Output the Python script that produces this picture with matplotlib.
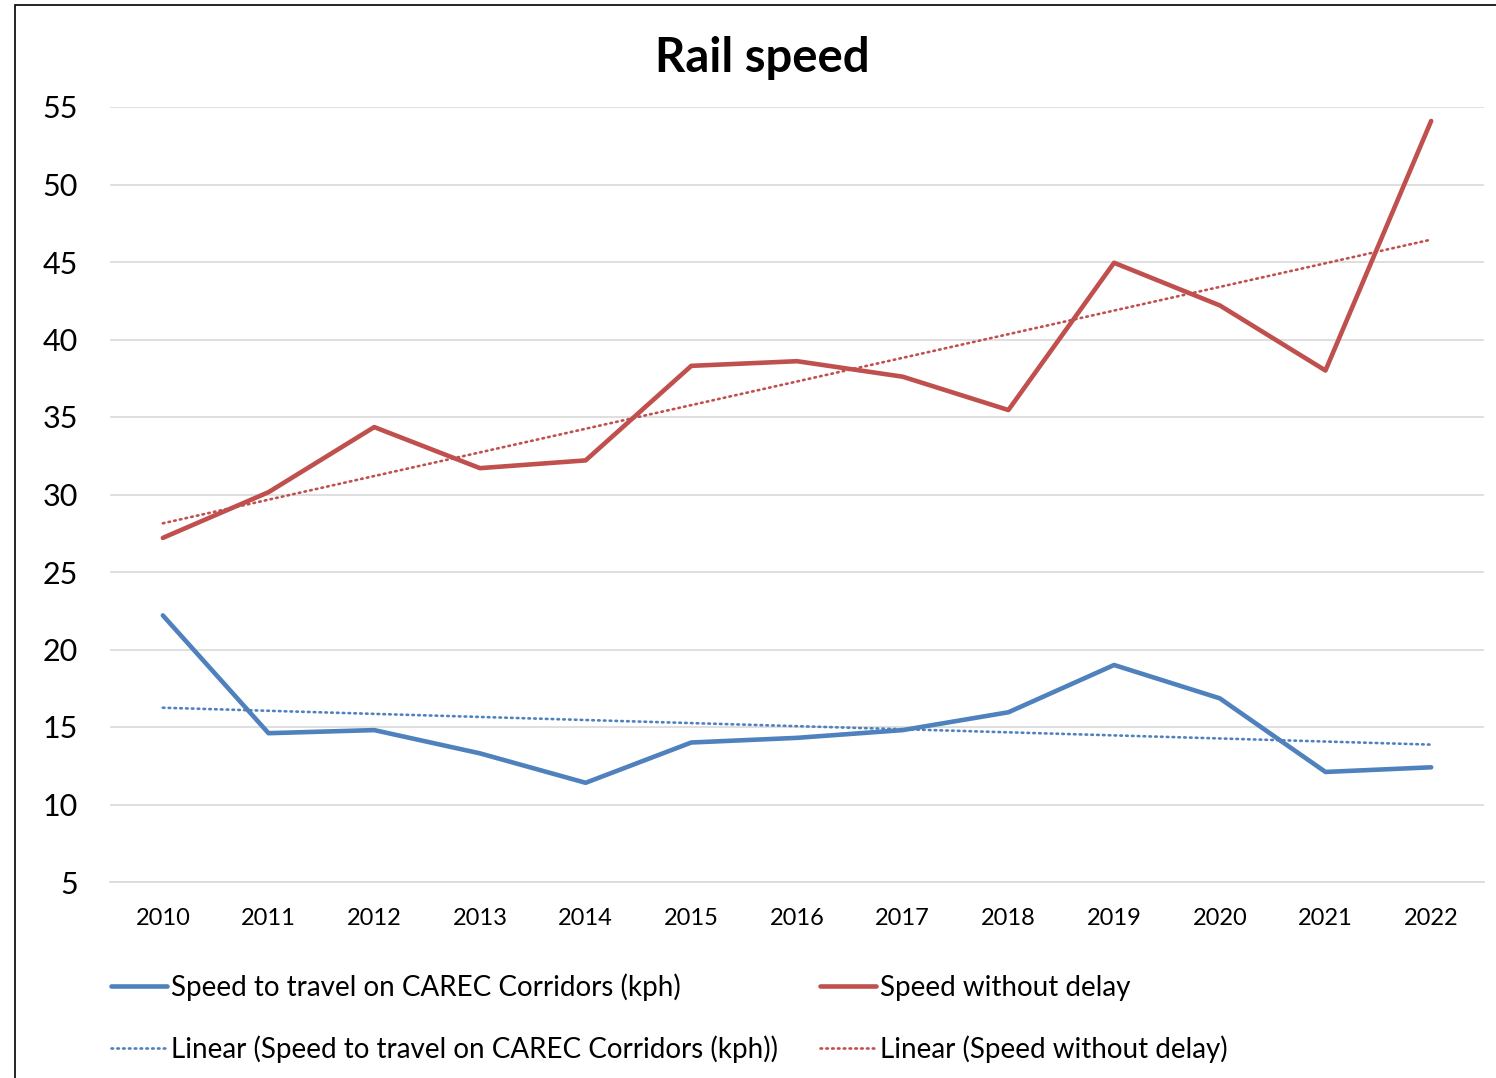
import matplotlib
matplotlib.use('Agg')
import matplotlib.pyplot as plt
from matplotlib.patches import Rectangle
import numpy as np

years = [2010, 2011, 2012, 2013, 2014, 2015, 2016, 2017, 2018, 2019, 2020, 2021, 2022]
speed_carec = [22.2, 14.6, 14.8, 13.3, 11.4, 14.0, 14.3, 14.8, 15.95, 19.0, 16.85, 12.1, 12.4]
speed_no_delay = [27.2, 30.15, 34.35, 31.7, 32.2, 38.3, 38.6, 37.6, 35.45, 44.95, 42.2, 38.0, 54.1]

label_carec = 'Speed to travel on CAREC Corridors (kph)'
label_nodelay = 'Speed without delay'

blue = '#4F81BD'
red = '#C0504D'
grid_col = '#D9D9D9'

plt.rcParams['font.family'] = ['Lato', 'DejaVu Sans']

fig = plt.figure(figsize=(14.96, 10.78), dpi=100)
# outer chart frame (runs off the right/bottom edge like in the source)
fig.patches.append(Rectangle((15 / 1496, -0.05), 1.1, 1.05 - 5 / 1078, transform=fig.transFigure,
                             fill=False, edgecolor='black', linewidth=1.2))

ax = fig.add_axes([110 / 1496, 1 - 882 / 1078, (1484 - 110) / 1496, (882 - 107) / 1078])

x = np.arange(len(years))

def trend(vals):
    k, b = np.polyfit(x, vals, 1)
    return k * x + b

l1, = ax.plot(x, speed_carec, color=blue, lw=3.3, solid_capstyle='round', zorder=3)
l2, = ax.plot(x, speed_no_delay, color=red, lw=3.3, solid_capstyle='round', zorder=3)
t1, = ax.plot(x, trend(speed_carec), color=blue, lw=1.9, linestyle=(0, (0.6, 1.6)),
              dash_capstyle='round', zorder=2)
t2, = ax.plot(x, trend(speed_no_delay), color=red, lw=1.9, linestyle=(0, (0.6, 1.6)),
              dash_capstyle='round', zorder=2)

ax.set_xlim(-0.5, len(years) - 0.5)
ax.set_ylim(5, 55)
ax.set_yticks(range(5, 56, 5))
ax.set_xticks(x)
ax.set_xticklabels([str(y) for y in years])
ax.yaxis.grid(True, color=grid_col, lw=1.2)
ax.set_axisbelow(True)
for s in ['top', 'right', 'left']:
    ax.spines[s].set_visible(False)
ax.spines['bottom'].set_color(grid_col)
ax.spines['bottom'].set_linewidth(1.2)
ax.tick_params(axis='y', length=0, labelsize=22, pad=23)
ax.tick_params(axis='x', length=0, labelsize=17, pad=19)

fig.text(762 / 1496, 1 - 58 / 1078, 'Rail speed', ha='center', va='center',
         fontsize=34, fontweight='bold')

fig.legend([l1, t1, l2, t2],
           [label_carec, 'Linear (' + label_carec + ')', label_nodelay, 'Linear (' + label_nodelay + ')'],
           ncol=2, loc='upper left', bbox_to_anchor=(100 / 1496, 1 - 962 / 1078),
           frameon=False, fontsize=20, handlelength=2.0, handletextpad=0.15,
           columnspacing=1.52, labelspacing=1.25, borderaxespad=0)

fig.savefig('out.png', dpi=100)
